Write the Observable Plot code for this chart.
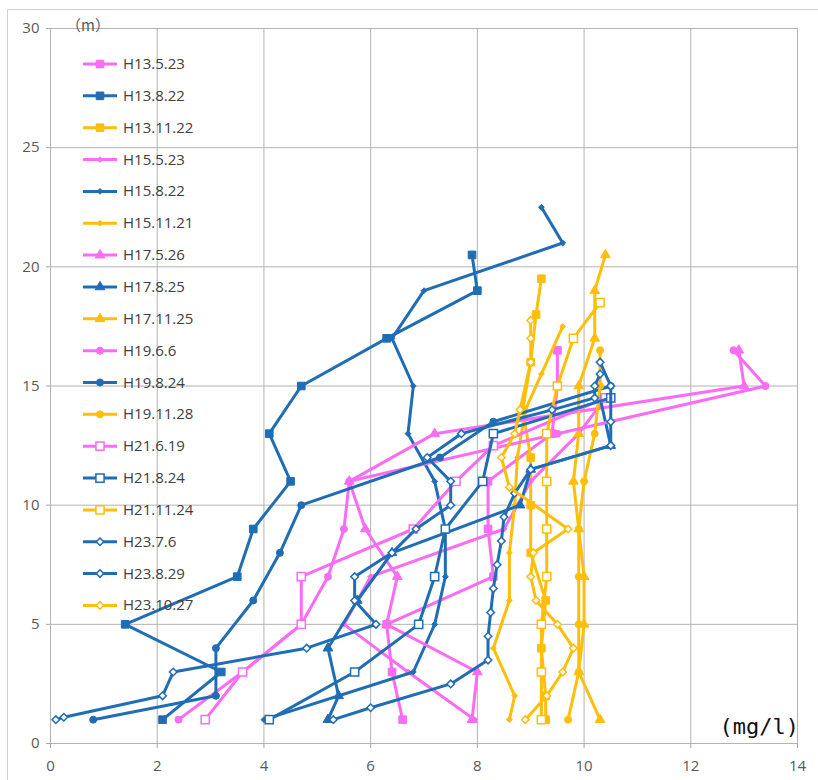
<!DOCTYPE html>
<html><head><meta charset="utf-8">
<script src="https://cdn.jsdelivr.net/npm/d3@7"></script>
<script src="https://cdn.jsdelivr.net/npm/@observablehq/plot@0.6"></script>
<style>body{margin:0;background:#fff}#chart{position:relative;width:818px;height:780px;overflow:hidden}</style>
</head><body><div id="chart"></div>
<script>
// ---- data ----
const seriesNames = ["H13.5.23","H13.8.22","H13.11.22","H15.5.23","H15.8.22","H15.11.21","H17.5.26","H17.8.25","H17.11.25","H19.6.6","H19.8.24","H19.11.28","H21.6.19","H21.8.24","H21.11.24","H23.7.6","H23.8.29","H23.10.27"];
const xTicks = [0,2,4,6,8,10,12,14];
const yTicks = [0,5,10,15,20,25,30];

const H13_5_23_depth = [1,3,5,7,9,11,13,15,16.5];
const H13_5_23_do    = [6.6,6.4,6.3,8.3,8.2,8.2,9.4,9.5,9.5];
const H13_8_22_depth = [1,3,5,7,9,11,13,15,17,19,20.5];
const H13_8_22_do    = [2.1,3.2,1.4,3.5,3.8,4.5,4.1,4.7,6.3,8.0,7.9];
const H13_11_22_depth = [1,2,4,6,8,10,12,14,16,18,19.5];
const H13_11_22_do    = [9.28,9.28,9.2,9.28,9.0,9.0,9.0,8.85,9.0,9.1,9.2];
const H15_5_23_depth = [1,3,5,7,9,11,13,14.5];
const H15_5_23_do    = [7.95,6.7,5.5,6.0,8.5,9.0,9.9,10.4];
const H15_8_22_depth = [1,3,5,7,9,11,13,15,17,19,21,22.5];
const H15_8_22_do    = [4.0,6.8,7.2,7.4,7.4,7.2,6.7,6.8,6.4,7.0,9.6,9.2];
const H15_11_21_depth = [1,2,4,6,8,10,12,14,15.5,17.5];
const H15_11_21_do    = [8.6,8.7,8.3,8.6,8.6,8.7,8.75,8.9,9.2,9.6];
const H17_5_26_depth = [1,3,5,7,9,11,13,15,16.5];
const H17_5_26_do    = [7.9,8.0,6.3,6.5,5.9,5.6,7.2,13.0,12.9];
const H17_8_25_depth = [1,2,4,6,8,10,11.5,12.5,14.5];
const H17_8_25_do    = [5.2,5.4,5.2,5.75,6.4,8.8,9.0,10.5,10.3];
const H17_11_25_depth = [1,3,5,7,9,11,13,15,17,19,20.5];
const H17_11_25_do    = [10.3,9.9,10.0,10.0,9.9,9.8,9.9,9.9,10.2,10.2,10.4];
const H19_6_6_depth = [1,3,5,7,9,11,13,15,16.5];
const H19_6_6_do    = [2.4,3.6,4.7,5.2,5.5,5.6,9.5,13.4,12.8];
const H19_8_24_depth = [1,2,4,6,8,10,12,13.5,15];
const H19_8_24_do    = [0.8,3.1,3.1,3.8,4.3,4.7,7.3,8.3,10.5];
const H19_11_28_depth = [1,3,5,7,9,11,13,15,16.5];
const H19_11_28_do    = [9.7,9.9,9.9,9.9,9.9,10.0,10.2,10.3,10.3];
const H21_6_19_depth = [1,3,5,7,9,11,12.5,14.5];
const H21_6_19_do    = [2.9,3.6,4.7,4.7,6.8,7.6,8.3,10.4];
const H21_8_24_depth = [1,3,5,7,9,11,13,14.5];
const H21_8_24_do    = [4.1,5.7,6.9,7.2,7.4,8.1,8.3,10.5];
const H21_11_24_depth = [1,3,5,7,9,11,13,15,17,18.5];
const H21_11_24_do    = [9.2,9.2,9.2,9.3,9.3,9.3,9.3,9.5,9.8,10.3];
const H23_7_6_depth = [1,1.1,2,3,4,5,6,7,8,9,10,11,12,13,14,14.5,15,15.5];
const H23_7_6_do    = [0.1,0.25,2.1,2.3,4.8,6.1,5.7,5.7,6.4,6.85,7.5,7.5,7.06,7.7,9.4,10.2,10.2,10.3];
const H23_8_29_depth = [1,1.5,2.5,3.5,4.5,5.5,6.5,7.5,8.5,9.5,10.5,11.5,12.5,13.5,15,16];
const H23_8_29_do    = [5.3,6.0,7.5,8.2,8.2,8.25,8.3,8.37,8.45,8.5,8.7,9.0,10.5,10.5,10.5,10.3];
const H23_10_27_depth = [1,2,3,4,5,6,7,8,9,10.75,12,13,14,16,17,17.75];
const H23_10_27_do    = [8.9,9.3,9.6,9.8,9.5,9.1,9.0,9.05,9.7,8.6,8.45,8.7,8.8,9.0,9.0,9.0];

const seriesDepths = [H13_5_23_depth,H13_8_22_depth,H13_11_22_depth,H15_5_23_depth,H15_8_22_depth,H15_11_21_depth,H17_5_26_depth,H17_8_25_depth,H17_11_25_depth,H19_6_6_depth,H19_8_24_depth,H19_11_28_depth,H21_6_19_depth,H21_8_24_depth,H21_11_24_depth,H23_7_6_depth,H23_8_29_depth,H23_10_27_depth];
const seriesValues = [H13_5_23_do,H13_8_22_do,H13_11_22_do,H15_5_23_do,H15_8_22_do,H15_11_21_do,H17_5_26_do,H17_8_25_do,H17_11_25_do,H19_6_6_do,H19_8_24_do,H19_11_28_do,H21_6_19_do,H21_8_24_do,H21_11_24_do,H23_7_6_do,H23_8_29_do,H23_10_27_do];

// ---- styles ----
const PINK = "#F96CF3", BLUE = "#1F6DB5", GOLD = "#FFBE0A";
const seriesColor = [PINK,BLUE,GOLD,PINK,BLUE,GOLD,PINK,BLUE,GOLD,PINK,BLUE,GOLD,PINK,BLUE,GOLD,BLUE,BLUE,GOLD];
const seriesSymbol = ["square","square","square","diamond2","diamond2","diamond2","triangle","triangle","triangle","circle","circle","circle","square","square","square","diamond2","diamond2","diamond2"];
const seriesHollow = [0,0,0,0,0,0,0,0,0,0,0,0,1,1,1,1,1,1];
const seriesR = [4.3,4.3,4.3,2.6,2.6,2.6,3.6,3.6,3.6,3.5,3.5,3.5,4.6,4.6,4.6,3.4,3.4,3.4];

const rows = [];
seriesNames.forEach((name, i) => {
  seriesDepths[i].forEach((d, j) => rows.push({series: name, idx: i, depth: d, value: seriesValues[i][j]}));
});

const marks = [
  Plot.gridX(xTicks, {stroke: "#b3b3b3", strokeOpacity: 1}),
  Plot.gridY(yTicks, {stroke: "#b3b3b3", strokeOpacity: 1}),
  Plot.axisX(xTicks, {tickSize: 5, tickPadding: 12, fontSize: 15, tickFormat: d => String(d), stroke: "#a6a6a6"}),
  Plot.axisY(yTicks, {tickSize: 4, tickPadding: 7, fontSize: 15, tickFormat: d => String(d), stroke: "#a6a6a6"})
];
seriesNames.forEach((name, i) => {
  const data = rows.filter(r => r.idx === i);
  marks.push(Plot.line(data, {x: "value", y: "depth", stroke: seriesColor[i], strokeWidth: 3, strokeLinejoin: "round"}));
  marks.push(Plot.dot(data, {x: "value", y: "depth", symbol: seriesSymbol[i], r: seriesR[i],
    fill: seriesHollow[i] ? "white" : seriesColor[i], stroke: seriesColor[i], strokeWidth: seriesHollow[i] ? 1.5 : 1}));
});

const chart = Plot.plot({
  width: 818, height: 780,
  marginLeft: 50, marginRight: 21, marginTop: 28, marginBottom: 37,
  x: {domain: [0, 14], label: null},
  y: {domain: [0, 30], label: null},
  style: {fontFamily: "'Open Sans', 'Noto Sans', sans-serif", color: "#595959", background: "white", overflow: "visible"},
  marks
});
document.getElementById("chart").appendChild(chart);

// ---- decorations: outer chart border, unit labels, legend ----
const svg = d3.select(chart);
svg.append("path").attr("d", "M7.5,780 V9.5 H818").attr("fill", "none").attr("stroke", "#d0d0d0");
svg.append("text").attr("x", 66).attr("y", 31).attr("text-anchor", "start").attr("font-family", "'Noto Sans CJK JP'").attr("font-size", 15).attr("fill", "#595959").text("（m）");
svg.append("text").attr("x", 799).attr("y", 734).attr("text-anchor", "end").attr("font-family", "'DejaVu Sans Mono', monospace").attr("font-size", 22).attr("fill", "#111").text("(mg/l)");

const leg = svg.append("g").attr("text-anchor", "start");
seriesNames.forEach((name, i) => {
  const y = 64 + i * 31.85;
  const g = leg.append("g");
  g.append("line").attr("x1", 83).attr("x2", 117).attr("y1", y).attr("y2", y).attr("stroke", seriesColor[i]).attr("stroke-width", 3);
  const sym = {square: d3.symbolSquare, diamond2: d3.symbolDiamond2, triangle: d3.symbolTriangle, circle: d3.symbolCircle}[seriesSymbol[i]];
  g.append("path").attr("transform", `translate(100,${y})`).attr("d", d3.symbol(sym, Math.PI * seriesR[i] * seriesR[i])())
    .attr("fill", seriesHollow[i] ? "white" : seriesColor[i]).attr("stroke", seriesColor[i]).attr("stroke-width", seriesHollow[i] ? 1.5 : 1);
  g.append("text").attr("x", 123).attr("y", y + 5).attr("text-anchor", "start").attr("font-family", "'Open Sans', sans-serif").attr("font-size", 15).attr("fill", "#404040").text(name);
});
</script></body></html>
